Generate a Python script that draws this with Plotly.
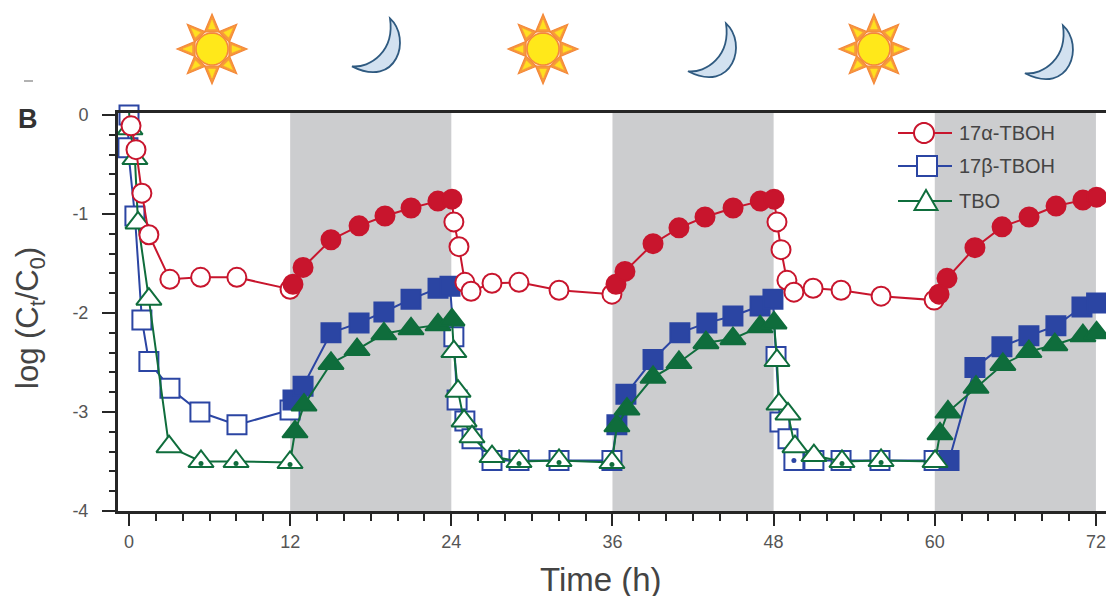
import math
import plotly.graph_objects as go

# ---------- data ----------
a_t = [0.15,0.52,0.96,1.48,3.04,5.33,8.03,11.99,12.21,12.96,15.04,17.13,19.06,21.00,23.00,24.05,
       24.19,24.57,25.01,25.47,27.03,29.04,32.02,35.96,36.26,36.93,39.02,40.95,42.89,44.98,47.00,48.03,
       48.25,48.55,48.99,49.51,50.94,53.02,56.00,59.95,60.32,60.91,62.99,65.01,67.02,69.03,71.03,72.05]
a_v = [-0.11,-0.35,-0.79,-1.21,-1.66,-1.64,-1.64,-1.76,-1.71,-1.54,-1.26,-1.12,-1.02,-0.94,-0.87,-0.85,
       -1.08,-1.33,-1.69,-1.78,-1.70,-1.69,-1.77,-1.81,-1.71,-1.58,-1.30,-1.14,-1.03,-0.94,-0.87,-0.85,
       -1.08,-1.36,-1.67,-1.79,-1.75,-1.77,-1.83,-1.87,-1.81,-1.65,-1.34,-1.13,-1.03,-0.92,-0.86,-0.83]

b_t = [0.00,-0.08,0.44,0.96,1.48,3.05,5.28,8.04,11.99,12.21,12.96,15.04,17.13,18.98,21.00,23.01,23.90,
       24.19,24.43,25.01,25.54,27.03,29.04,32.02,35.96,36.33,37.00,39.02,41.02,43.03,44.97,46.99,47.95,
       48.18,48.47,49.07,49.51,51.00,53.02,55.92,59.95,61.06,62.99,65.00,67.01,69.02,70.96,72.05]
b_v = [0.0,-0.33,-1.02,-2.07,-2.49,-2.76,-3.00,-3.13,-2.98,-2.88,-2.74,-2.20,-2.10,-1.99,-1.86,-1.75,-1.73,
       -2.24,-2.88,-3.09,-3.27,-3.49,-3.49,-3.49,-3.49,-3.13,-2.82,-2.47,-2.20,-2.10,-2.03,-1.93,-1.86,
       -2.44,-3.10,-3.27,-3.49,-3.49,-3.49,-3.49,-3.49,-3.49,-2.55,-2.34,-2.23,-2.13,-1.94,-1.90]

g_t = [0.00,0.07,0.44,0.67,1.48,2.98,5.36,7.97,11.99,12.36,13.03,15.04,16.98,18.98,21.00,23.01,24.05,
       24.19,24.50,24.95,25.54,27.03,29.04,32.02,35.96,36.33,37.08,39.02,40.95,42.96,44.97,46.99,48.03,
       48.25,48.40,49.07,49.59,51.00,53.09,56.00,60.02,60.39,60.98,63.07,65.07,67.01,68.94,71.03,72.05]
g_v = [0.05,-0.14,-0.44,-1.09,-1.86,-3.35,-3.50,-3.50,-3.51,-3.20,-2.93,-2.51,-2.37,-2.21,-2.16,-2.12,-2.07,
       -2.39,-2.79,-3.09,-3.25,-3.45,-3.50,-3.49,-3.51,-3.14,-2.97,-2.65,-2.50,-2.30,-2.26,-2.14,-2.10,
       -2.48,-2.92,-3.02,-3.35,-3.44,-3.50,-3.49,-3.50,-3.22,-3.00,-2.75,-2.52,-2.39,-2.32,-2.23,-2.20]

g_dot_t = [5.36,7.97,11.99,29.04,32.02,35.96,53.09,56.00]
g_dot_v = [-3.52,-3.52,-3.53,-3.52,-3.51,-3.53,-3.52,-3.51]
b_dot_t = [49.51]
b_dot_v = [-3.49]

night_bands = [(12,24),(36,48),(60,72)]
sun_times = [6.18,30.83,55.47]
moon_times = [19.06,44.08,69.17]
moon_tops = [1.1675,1.155,1.15]
x_ticks = [0,12,24,36,48,60,72]
y_ticks = [0,-1,-2,-3,-4]
y_tick_text = ["0","-1","-2","-3","-4"]
legend_names = ["17α-TBOH","17β-TBOH","TBO"]

RED, BLUE, GREEN = "#C8152D", "#2B45A3", "#0F6D3C"
TXT = "#444444"
AX = "#262626"
L, R, T, B = 118, 0, 113, 85
W, H = 1106, 596
PW, PH = W - L - R, H - T - B

def px(x): return (x - L) / PW
def py(y): return (H - B - y) / PH

def is_night(t):
    return any(a + 0.1 <= t < b + 0.1 for a, b in night_bands)

def fills(ts, color):
    return [color if is_night(t) else "white" for t in ts]

def series(name, ts, vs, color, symbol, size):
    return go.Scatter(x=ts, y=vs, mode="lines+markers", name=name, showlegend=False,
                      cliponaxis=False, line=dict(color=color, width=2),
                      marker=dict(symbol=symbol, size=size, color=fills(ts, color),
                                  line=dict(color=color, width=2)))

fig = go.Figure()
fig.add_trace(series(legend_names[1], b_t, b_v, BLUE, "square", 19))
fig.add_trace(go.Scatter(x=b_dot_t, y=b_dot_v, mode="markers", showlegend=False, cliponaxis=False,
                         marker=dict(color=BLUE, size=5)))
fig.add_trace(series(legend_names[2], g_t, g_v, GREEN, "triangle-up", 22))
fig.add_trace(go.Scatter(x=g_dot_t, y=g_dot_v, mode="markers", showlegend=False, cliponaxis=False,
                         marker=dict(color=GREEN, size=5)))
fig.add_trace(series(legend_names[0], a_t, a_v, RED, "circle", 19))

shapes = []
for a, b in night_bands:
    shapes.append(dict(type="rect", xref="x", yref="paper", x0=a, x1=b, y0=0, y1=1,
                       fillcolor="#CCCDCF", line_width=0, layer="below"))

def poly(points):
    return "M" + " L".join(f"{x:.1f} {y:.1f}" for x, y in points) + " Z"

def anchored(xa, ya, path, fill, stroke, w=1.2, xref="x"):
    return dict(type="path", xref=xref, yref="paper", xsizemode="pixel", ysizemode="pixel",
                xanchor=xa, yanchor=ya, path=path, fillcolor=fill, line=dict(color=stroke, width=w))

def circle_path(r):
    return poly([(r*math.cos(i*math.pi/24), r*math.sin(i*math.pi/24)) for i in range(48)])

for t in sun_times:
    top = py(49)
    for k in range(8):
        ang = k * math.pi / 4
        ux, uy = math.cos(ang), math.sin(ang)
        nx, ny = -uy, ux
        outer = [(17*ux+7.5*nx, 17*uy+7.5*ny), (35*ux, 35*uy), (17*ux-7.5*nx, 17*uy-7.5*ny)]
        inner = [(20*ux+3.5*nx, 20*uy+3.5*ny), (29*ux, 29*uy), (20*ux-3.5*nx, 20*uy-3.5*ny)]
        shapes.append(anchored(t, top, poly(outer), "#F79A3A", "#F4883A"))
        shapes.append(anchored(t, top, poly(inner), "#FFE020", "#FFE020", 0.5))
    shapes.append(anchored(t, top, circle_path(16), "#FFE81A", "#F4883A", 1.6))

moon = "M5 28 C27 8 12 -43 -33 -20 C-15 -22 10 -5 5 28 Z"
for t, top in zip(moon_times, moon_tops):
    shapes.append(anchored(t, top, moon, "#D2E1F0", "#2F5A80", 1.8))

# little grey dash left over above the panel letter
shapes.append(dict(type="line", xref="paper", yref="paper", x0=px(24), x1=px(33), y0=py(81), y1=py(81),
                   line=dict(color="#999999", width=1.5)))

# legend keys
key_rows = [(133, 924, RED, circle_path(10)),
            (166, 927, BLUE, poly([(-10,-10),(10,-10),(10,10),(-10,10)])),
            (201, 926, GREEN, poly([(-11.5,-9),(11.5,-9),(0,11)]))]
for y, xc, col, path in key_rows:
    shapes.append(dict(type="line", xref="paper", yref="paper", x0=px(898), x1=px(952), y0=py(y), y1=py(y),
                       line=dict(color=col, width=2.2)))
    shapes.append(anchored(px(xc), py(y), path, "white", col, 2, xref="paper"))

annotations = [
    dict(text="<b>B</b>", xref="paper", yref="paper", x=px(27.5), y=py(119), xanchor="center", yanchor="middle",
         showarrow=False, font=dict(family="Liberation Sans", size=27, color="#333333")),
    dict(text="log (C<sub>t</sub>/C<sub>0</sub>)", xref="paper", yref="paper", x=px(30), y=py(318),
         xanchor="center", yanchor="middle", textangle=-90, showarrow=False,
         font=dict(family="Liberation Sans", size=31, color=TXT)),
    dict(text="Time (h)", xref="paper", yref="paper", x=px(601), y=py(579), xanchor="center", yanchor="middle",
         showarrow=False, font=dict(family="Liberation Sans", size=33, color=TXT)),
]
for (y, _, _, _), name in zip(key_rows, legend_names):
    annotations.append(dict(text=name, xref="paper", yref="paper", x=px(957), y=py(y), xanchor="left",
                            yanchor="middle", showarrow=False,
                            font=dict(family="Liberation Sans", size=20, color=TXT)))

axis_font = dict(family="Liberation Sans", size=18, color="#555555")
fig.update_layout(
    width=W, height=H, margin=dict(l=L, r=R, t=T, b=B, pad=0),
    paper_bgcolor="white", plot_bgcolor="white", showlegend=False,
    shapes=shapes, annotations=annotations,
    xaxis=dict(range=[-0.82, 72.75], tickvals=x_ticks, showgrid=False, zeroline=False,
               showline=True, linecolor=AX, linewidth=3, mirror=True,
               ticks="outside", ticklen=12, tickwidth=2, tickcolor=AX, tickfont=axis_font,
               minor=dict(dtick=2, tick0=0, ticks="outside", ticklen=7, tickwidth=2, tickcolor=AX, showgrid=False)),
    yaxis=dict(range=[-4, 0.02], tickvals=y_ticks, ticktext=y_tick_text, showgrid=False, zeroline=False,
               showline=True, linecolor=AX, linewidth=3,
               ticks="outside", ticklen=13, tickwidth=2, tickcolor=AX, tickfont=axis_font,
               ticklabelstandoff=10,
               minor=dict(dtick=0.2, tick0=0, ticks="outside", ticklen=6, tickwidth=2, tickcolor=AX, showgrid=False)),
)

fig.write_html("out.html", config=dict(displayModeBar=False), post_script="document.body.style.margin='0';")
